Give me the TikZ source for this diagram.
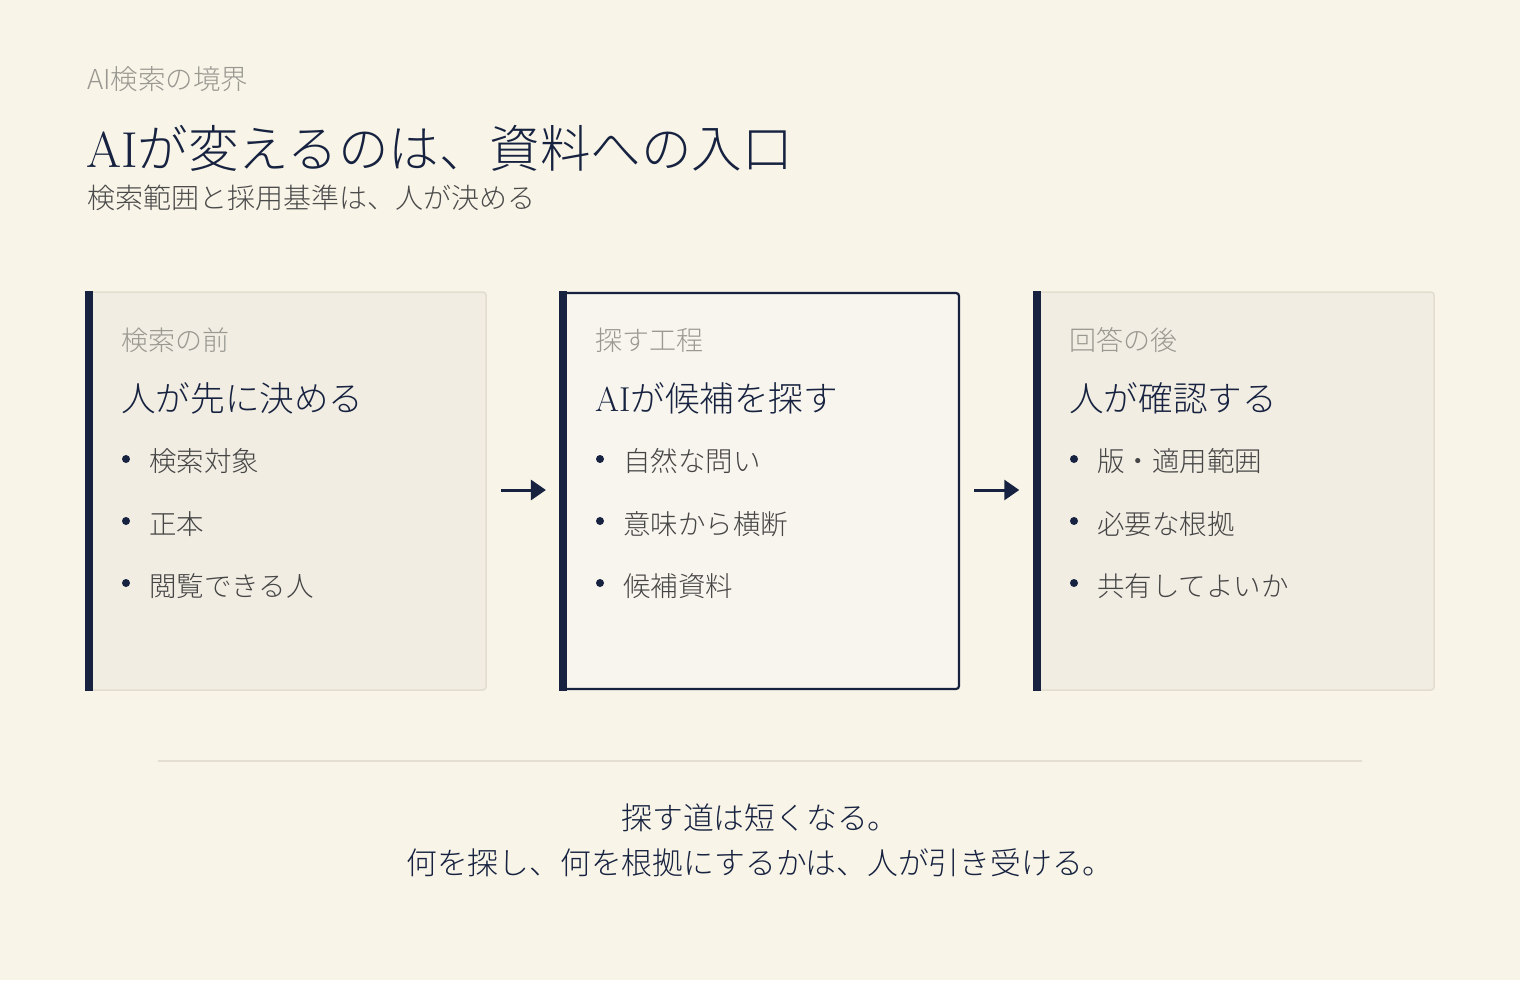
\documentclass[tikz,border=0pt]{standalone}
\usepackage{fontspec}
\newfontfamily\jp{Noto Sans CJK JP}[UprightFont={* Light}]
\usetikzlibrary{arrows.meta}
\definecolor{paper}{HTML}{F8F4E8}
\definecolor{navy}{HTML}{16223F}
\definecolor{panelfill}{HTML}{F1EDE3}
\definecolor{panelfilltwo}{HTML}{F8F5EE}
\definecolor{panelline}{HTML}{E2DDCF}
\definecolor{softgray}{HTML}{999891}
\definecolor{bodygray}{HTML}{454545}
\definecolor{subgray}{HTML}{4A4A4A}
\definecolor{rulecol}{HTML}{E3DED1}
\tikzset{
  panel/.style={draw=panelline, line width=1.5pt, fill=panelfill, rounded corners=3pt, minimum width=400pt, minimum height=398pt, inner sep=0pt},
  panelhl/.style={draw=navy, line width=2.2pt, fill=panelfilltwo, rounded corners=3pt, minimum width=398pt, minimum height=396pt, inner sep=0pt},
  leftbar/.style={fill=navy},
  kicker/.style={anchor=west, inner sep=0pt, text=softgray, font=\jp\fontsize{27}{31}\selectfont},
  heading/.style={anchor=west, inner sep=0pt, text=navy, font=\jp\fontsize{34.6}{40}\selectfont},
  item/.style={anchor=west, inner sep=0pt, text=bodygray, font=\jp\fontsize{27.5}{32}\selectfont},
  dot/.style={circle, fill=navy, inner sep=0pt, minimum size=8pt},
  flow/.style={draw=navy, line width=3pt, -{Triangle[length=15pt,width=20pt]}},
  closing/.style={anchor=center, inner sep=0pt, text=navy, font=\jp\fontsize{30.8}{36}\selectfont}
}
\begin{document}
\begin{tikzpicture}[x=1pt,y=-1pt]
\fill[paper] (0,0) rectangle (1520,980);
\useasboundingbox (0,0) rectangle (1520,980);

% header
\node[anchor=west, inner sep=0pt, text=softgray, font=\jp\fontsize{27.5}{31}\selectfont] (kick) at (87,79) {AI検索の境界};
\node[anchor=west, inner sep=0pt, text=navy, font=\jp\fontsize{50.5}{58}\selectfont] (title) at (86,148) {{\rmfamily AI}が変えるのは、資料への入口};
\node[anchor=west, inner sep=0pt, text=subgray, font=\jp\fontsize{28}{32}\selectfont] (sub) at (87,198) {検索範囲と採用基準は、人が決める};

% panels
\node[panel] (b1) at (286,491) {};
\node[panelhl] (b2) at (760,491) {};
\node[panel] (b3) at (1234,491) {};
\fill[leftbar] (b1.north west) rectangle ([xshift=8pt]b1.south west);
\fill[leftbar] ([xshift=-1pt,yshift=1pt]b2.north west) rectangle ([xshift=7pt,yshift=-1pt]b2.south west);
\fill[leftbar] (b3.north west) rectangle ([xshift=8pt]b3.south west);

% panel 1
\node[kicker] (k1) at (121,340) {検索の前};
\node[heading] (h1) at (121,398) {人が先に決める};
\node[dot] (d11) at (126,459) {};
\node[item] (i11) at (149,461) {検索対象};
\node[dot] (d12) at (126,521) {};
\node[item] (i12) at (149,524) {正本};
\node[dot] (d13) at (126,583) {};
\node[item] (i13) at (149,586) {閲覧できる人};

% panel 2
\node[kicker] (k2) at (595,340) {探す工程};
\node[heading] (h2) at (595,398) {{\rmfamily AI}が候補を探す};
\node[dot] (d21) at (600,459) {};
\node[item] (i21) at (623,461) {自然な問い};
\node[dot] (d22) at (600,521) {};
\node[item] (i22) at (623,524) {意味から横断};
\node[dot] (d23) at (600,583) {};
\node[item] (i23) at (623,586) {候補資料};

% panel 3
\node[kicker] (k3) at (1069,340) {回答の後};
\node[heading] (h3) at (1069,398) {人が確認する};
\node[dot] (d31) at (1074,459) {};
\node[item] (i31) at (1097,461) {版・適用範囲};
\node[dot] (d32) at (1074,521) {};
\node[item] (i32) at (1097,524) {必要な根拠};
\node[dot] (d33) at (1074,583) {};
\node[item] (i33) at (1097,586) {共有してよいか};

% arrows
\draw[flow] ([xshift=14pt,yshift=1pt]b1.east) -- ([xshift=-14pt,yshift=1pt]b2.west);
\draw[flow] ([xshift=14pt,yshift=1pt]b2.east) -- ([xshift=-14pt,yshift=1pt]b3.west);

% divider
\coordinate (rl) at (158,761);
\coordinate (rr) at (1362,761);
\draw[rulecol, line width=2pt] (rl) -- (rr);

% closing
\node[closing] (c1) at (760,818) {探す道は短くなる。};
\node[closing] (c2) at (760,863) {何を探し、何を根拠にするかは、人が引き受ける。};
\end{tikzpicture}
\end{document}
